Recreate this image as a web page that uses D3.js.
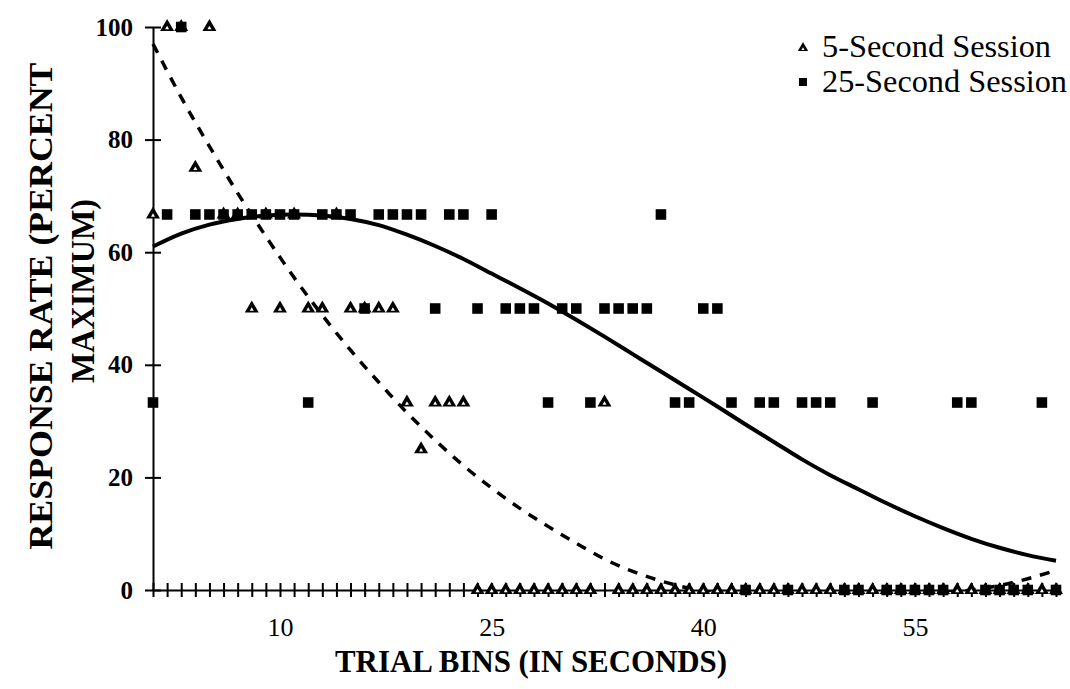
<!DOCTYPE html>
<meta charset="utf-8">

<!-- Load d3.js -->
<script src="https://d3js.org/d3.v7.min.js"></script>

<style>
    body { margin: 0; background: #fff; }
    text { font-family: "Liberation Serif", "Times New Roman", serif; fill: #000; }
</style>

<!-- Create a div where the graph will take place -->
<div id="trial_chart"></div>

<script>
    // trial bins (seconds) and the labels shown under the axis
    var bins = [1, 2, 3, 4, 5, 6, 7, 8, 9, 10, 11, 12, 13, 14, 15, 16, 17, 18, 19, 20,
        21, 22, 23, 24, 25, 26, 27, 28, 29, 30, 31, 32, 33, 34, 35, 36, 37, 38, 39, 40,
        41, 42, 43, 44, 45, 46, 47, 48, 49, 50, 51, 52, 53, 54, 55, 56, 57, 58, 59, 60,
        61, 62, 63, 64, 65];
    var xLabels = [10, 25, 40, 55];
    var yTicks = [0, 20, 40, 60, 80, 100];

    // response rate (percent maximum) per bin
    var fiveSec = [66.7, 100, 100, 75, 100, 66.7, 66.7, 50, 66.7, 50,
        66.7, 50, 50, 66.7, 50, 50, 50, 50, 33.3, 25,
        33.3, 33.3, 33.3, 0, 0, 0, 0, 0, 0, 0,
        0, 0, 33.3, 0, 0, 0, 0, 0, 0, 0,
        0, 0, 0, 0, 0, 0, 0, 0, 0, 0,
        0, 0, 0, 0, 0, 0, 0, 0, 0, 0,
        0, 0, 0, 0, 0];
    var twentyFiveSec = [33.3, 66.7, 100, 66.7, 66.7, 66.7, 66.7, 66.7, 66.7, 66.7,
        66.7, 33.3, 66.7, 66.7, 66.7, 50, 66.7, 66.7, 66.7, 66.7,
        50, 66.7, 66.7, 50, 66.7, 50, 50, 50, 33.3, 50,
        50, 33.3, 50, 50, 50, 50, 66.7, 33.3, 33.3, 50,
        50, 33.3, 0, 33.3, 33.3, 0, 33.3, 33.3, 33.3, 0,
        0, 33.3, 0, 0, 0, 0, 0, 33.3, 33.3, 0,
        0, 0, 0, 33.3, 0];

    // trend lines
    var trendBins = [1, 3, 5, 7, 9, 11, 13, 15, 17, 19, 21, 23, 25, 27, 29, 31, 33,
        35, 37, 39, 41, 43, 45, 47, 49, 51, 53, 55, 57, 59, 61, 63, 65];
    var trendFive = [97, 87.5, 78.8, 70.5, 62.8, 55.5, 48.8, 42.6, 36.9, 31.5, 26.6, 22.1,
        18.1, 14.5, 11.3, 8.3, 5.5, 3.3, 1.6, 0.3, -0.7, -1.4, -1.8, -2, -2, -1.8, -1.5,
        -1.1, -0.6, 0, 0.8, 2, 3.5];
    var trendTwentyFive = [61, 63.3, 64.9, 65.9, 66.5, 66.7, 66.5, 65.9, 64.8, 63.1, 61.1, 58.8,
        56.2, 53.6, 50.9, 48, 45, 41.9, 38.8, 35.7, 32.6, 29.4, 26.3, 23.2, 20.4, 17.9,
        15.4, 13.1, 11, 9.1, 7.5, 6.2, 5.2];

    // set the dimensions and margins of the graph
    var margin = { top: 27, right: 14, bottom: 99, left: 153 },
        width = 1070 - margin.left - margin.right,
        height = 689 - margin.top - margin.bottom;

    var svg = d3.select("#trial_chart")
        .append("svg")
        .attr("width", width + margin.left + margin.right)
        .attr("height", height + margin.top + margin.bottom)
        .append("g")
        .attr("transform", "translate(" + margin.left + "," + margin.top + ")");

    var x = d3.scaleLinear().domain([1, 65]).range([0, 903]);
    var y = d3.scaleLinear().domain([0, 100]).range([height, 0]);

    // clip so the trend lines stay above the x axis
    svg.append("clipPath").attr("id", "plot")
        .append("rect").attr("x", -2).attr("y", -10).attr("width", 912).attr("height", height + 12);

    // y axis
    var yAxis = svg.append("g")
        .call(d3.axisLeft(y).tickValues(yTicks).tickSize(8).tickSizeOuter(0).tickPadding(12));
    yAxis.selectAll(".tick line").attr("x1", -8).attr("x2", 8);
    yAxis.selectAll("text")
        .style("font-size", "25px").style("font-weight", "bold")
        .style("font-family", "Liberation Serif");

    // x axis, a tick at every bin
    var xAxis = svg.append("g")
        .attr("transform", "translate(0," + height + ")")
        .call(d3.axisBottom(x).tickValues(bins).tickSize(7).tickSizeOuter(0).tickPadding(21)
            .tickFormat(function (d) { return xLabels.indexOf(d) >= 0 ? d : ""; }));
    xAxis.selectAll(".tick line").attr("y1", -7).attr("y2", 7);
    xAxis.selectAll("text")
        .style("font-size", "26px")
        .style("font-family", "Liberation Serif");

    svg.selectAll(".domain, .tick line").attr("stroke", "#000").attr("stroke-width", 2);

    // trend lines
    var line = d3.line().curve(d3.curveMonotoneX)
        .x(function (d) { return x(d[0]); })
        .y(function (d) { return y(d[1]); });

    svg.append("path")
        .datum(trendBins.map(function (b, i) { return [b, trendFive[i]]; }))
        .attr("clip-path", "url(#plot)")
        .attr("d", line)
        .attr("fill", "none").attr("stroke", "#000")
        .attr("stroke-width", 3.5).attr("stroke-dasharray", "10,9");

    svg.append("path")
        .datum(trendBins.map(function (b, i) { return [b, trendTwentyFive[i]]; }))
        .attr("d", line)
        .attr("fill", "none").attr("stroke", "#000").attr("stroke-width", 4);

    // markers: black triangle with a small white hole, black square
    var triOuter = d3.symbol().type(d3.symbolTriangle).size(85);
    var triInner = d3.symbol().type(d3.symbolTriangle).size(7);
    var sq = d3.symbol().type(d3.symbolSquare).size(112);

    var fiveG = svg.selectAll(".five")
        .data(bins)
        .enter()
        .append("g")
        .attr("class", "five")
        .attr("transform", function (d, i) { return "translate(" + x(d) + "," + y(fiveSec[i]) + ")"; });
    fiveG.append("path").attr("d", triOuter).attr("fill", "#000");
    fiveG.append("path").attr("d", triInner).attr("fill", "#fff").attr("transform", "translate(0,1)");

    svg.selectAll(".twentyfive")
        .data(bins)
        .enter()
        .append("path")
        .attr("class", "twentyfive")
        .attr("transform", function (d, i) { return "translate(" + x(d) + "," + y(twentyFiveSec[i]) + ")"; })
        .attr("d", sq)
        .attr("fill", "#000");

    // axis titles
    var root = d3.select("svg");
    root.append("text")
        .attr("x", 531).attr("y", 672)
        .attr("text-anchor", "middle")
        .attr("textLength", 392).attr("lengthAdjust", "spacingAndGlyphs")
        .style("font-size", "31px").style("font-weight", "bold")
        .text("TRIAL BINS (IN SECONDS)");

    root.append("text")
        .attr("transform", "translate(52,306) rotate(-90)")
        .attr("text-anchor", "middle")
        .attr("textLength", 487).attr("lengthAdjust", "spacingAndGlyphs")
        .style("font-size", "33px").style("font-weight", "bold")
        .text("RESPONSE RATE (PERCENT");
    root.append("text")
        .attr("transform", "translate(94,291) rotate(-90)")
        .attr("text-anchor", "middle")
        .attr("textLength", 184).attr("lengthAdjust", "spacingAndGlyphs")
        .style("font-size", "33px").style("font-weight", "bold")
        .text("MAXIMUM)");

    // legend
    var legend = root.append("g").attr("transform", "translate(803,0)");
    legend.append("path")
        .attr("transform", "translate(0,48)")
        .attr("d", d3.symbol().type(d3.symbolTriangle).size(46))
        .attr("fill", "#000");
    legend.append("path")
        .attr("transform", "translate(0,49)")
        .attr("d", d3.symbol().type(d3.symbolTriangle).size(4))
        .attr("fill", "#fff");
    legend.append("path")
        .attr("transform", "translate(0,82)")
        .attr("d", d3.symbol().type(d3.symbolSquare).size(64))
        .attr("fill", "#000");
    legend.append("text").attr("x", 19).attr("y", 57)
        .attr("textLength", 229).attr("lengthAdjust", "spacingAndGlyphs")
        .style("font-size", "31px").text("5-Second Session");
    legend.append("text").attr("x", 19).attr("y", 92)
        .attr("textLength", 245).attr("lengthAdjust", "spacingAndGlyphs")
        .style("font-size", "31px").text("25-Second Session");
</script>
